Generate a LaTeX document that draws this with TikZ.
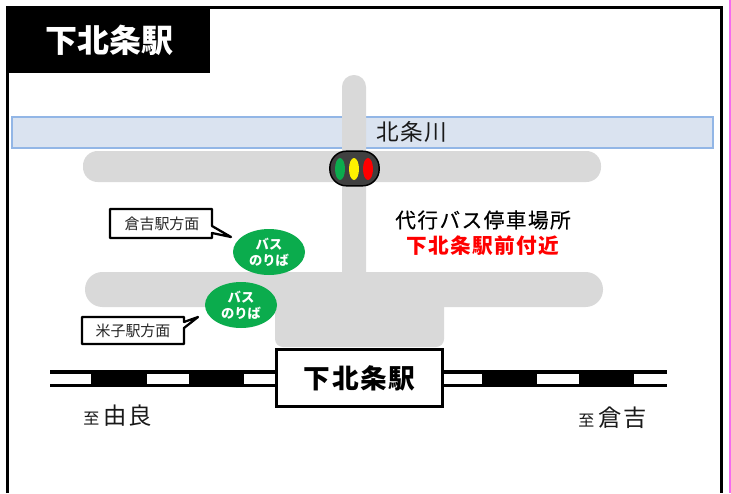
\documentclass[tikz,border=0pt]{standalone}
\usepackage{fontspec}
\setmainfont{Noto Sans CJK JP}
\definecolor{roadgray}{HTML}{D9D9D9}
\definecolor{riverfill}{HTML}{DAE3F0}
\definecolor{riverline}{HTML}{92B6E6}
\definecolor{busgreen}{HTML}{0BAC4D}
\definecolor{pinkline}{HTML}{F56BF0}
\newcommand{\spaced}[1]{\addfontfeature{LetterSpace=#1}}
\tikzset{
  x=0.75pt,y=-0.75pt,
  road/.style={fill=roadgray,draw=none},
  busstop/.style={ellipse,fill=busgreen,draw=none,minimum width=54pt,minimum height=34.5pt,inner sep=0pt,text=white,font=\fontsize{10pt}{12pt}\selectfont\bfseries,align=center},
  callout/.style={fill=white,draw=black,line width=1.7pt,line join=round},
  calltext/.style={font=\fontsize{11.2pt}{13pt}\selectfont,text=black!85},
}
\usetikzlibrary{shapes.geometric}
\begin{document}
\begin{tikzpicture}
\useasboundingbox (0,0) rectangle (731,493);
\fill[white] (0,0) rectangle (731,493);
% page frame
\fill[pinkline] (728.7,0) rectangle (731,493);
\draw[line width=2.4pt] (7.5,493) -- (7.5,7.5) -- (721.5,7.5) -- (721.5,493);
\fill[black] (6,6) rectangle (210,73);
\node[text=white,font=\fontsize{24pt}{26pt}\selectfont\bfseries] (title) at (109,40) {下北条駅};
% river
\draw[fill=riverfill,draw=riverline,line width=2pt] (12,117) rectangle (713,148);
% roads
\fill[road,rounded corners=8.9pt] (342,75) -- (366,75) -- (366,290) -- (342,290) -- cycle;
\fill[road,rounded corners=11pt] (83,151) rectangle (601,182);
\fill[road,rounded corners=13pt] (85,272) rectangle (603,307);
\fill[road,rounded corners=6pt] (275,285) rectangle (444,347);
\node[font=\fontsize{17pt}{19pt}\selectfont\spaced{7},text=black!90] (river) at (412,132) {北条川};
% signal
\node[draw=black,fill=black!75,line width=1.1pt,rounded corners=12.5pt,minimum width=37pt,minimum height=26pt,inner sep=0pt] (signal) at (354.5,168.5) {};
\fill[busgreen] (340,169) ellipse (5 and 11);
\fill[yellow] (354,169) ellipse (5 and 11);
\fill[red] (368,169) ellipse (5 and 11);
% labels
\node[font=\fontsize{15.5pt}{17pt}\selectfont\spaced{7}\addfontfeature{FakeBold=0.3},text=black] (depot) at (483,220) {代行バス停車場所};
\node[font=\fontsize{15.5pt}{17pt}\selectfont\bfseries\spaced{7},text=red] (near) at (483,246) {下北条駅前付近};
% callouts
\draw[callout] (110,209) -- (212,209) -- (212,226) -- (231,237) -- (212,233) -- (212,238) -- (110,238) -- cycle;
\node[calltext] (kura) at (162,224) {倉吉駅方面};
\draw[callout] (82,317) -- (184,317) -- (184,322) -- (198,317) -- (184,328) -- (184,344) -- (82,344) -- cycle;
\node[calltext] (yona) at (133,331) {米子駅方面};
% bus stops
\node[busstop] (bus1) at (269,252) {バス\\のりば};
\node[busstop] (bus2) at (241,305) {バス\\のりば};
% railway
\fill[black] (50,370) rectangle (667,387);
\fill[white] (50,374) rectangle (91,384);
\fill[white] (147,374) rectangle (189,384);
\fill[white] (244,374) rectangle (275,384);
\fill[white] (444,374) rectangle (482,384);
\fill[white] (537,374) rectangle (579,384);
\fill[white] (634,374) rectangle (667,384);
% station
\node[draw=black,fill=white,line width=2.2pt,minimum width=125pt,minimum height=42.5pt,inner sep=0pt,font=\fontsize{20pt}{22pt}\selectfont\bfseries\spaced{6}] (station) at (359.5,378) {下北条駅};
\node[text=black!90] (yura) at (117.5,416) {\fontsize{12pt}{14pt}\selectfont 至\fontsize{17.5pt}{19pt}\selectfont\spaced{8}\,由良};
\node[text=black!90] (kurayoshi) at (612.5,418) {\fontsize{12pt}{14pt}\selectfont 至\fontsize{17.5pt}{19pt}\selectfont\spaced{8}\,倉吉};
\end{tikzpicture}
\end{document}
